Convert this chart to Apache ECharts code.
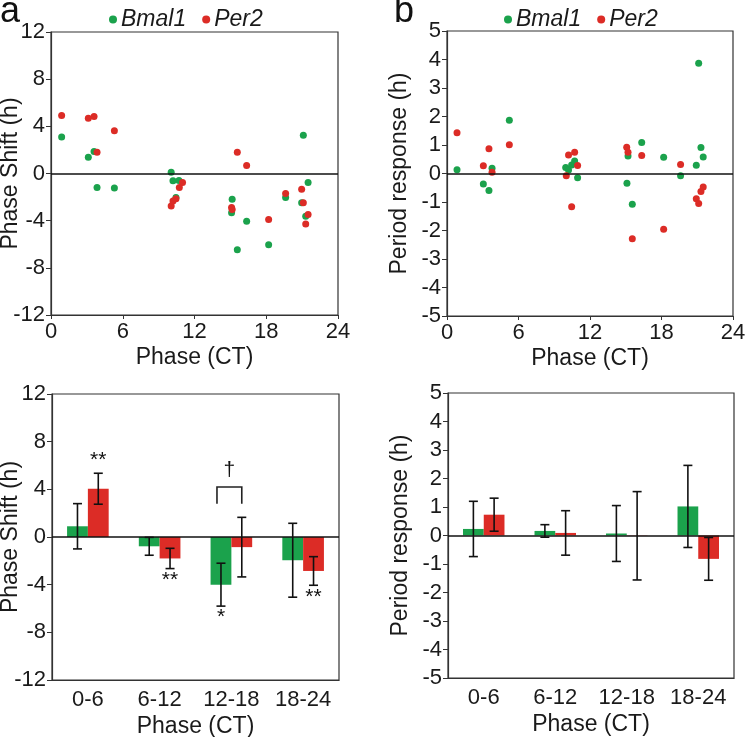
<!DOCTYPE html>
<html>
<head>
<meta charset="utf-8">
<script src="https://cdn.jsdelivr.net/npm/echarts@6/dist/echarts.min.js"></script>
<style>html,body{margin:0;padding:0;background:#fff}#c{width:750px;height:737px}</style>
</head>
<body>
<div id="c"></div>
<script>
// ---- Data ----
// Panel a (top): phase shift vs phase, [CT, shift]
const shiftBmal1 = [[0.89,3.1],[3.12,1.38],[3.6,1.86],[3.85,-1.19],[5.3,-1.24],[10.05,0.11],[10.2,-0.62],[10.7,-0.59],[10.45,-2.03],[15.15,-2.18],[15.1,-3.33],[15.58,-6.47],[16.36,-4.04],[18.2,-6.05],[19.62,-2.03],[20.96,-2.49],[21.1,3.25],[21.3,-3.62],[21.5,-0.76]];
const shiftPer2 = [[0.89,4.92],[3.12,4.69],[3.6,4.83],[3.85,1.81],[5.3,3.62],[10.05,-2.75],[10.2,-2.34],[10.45,-2.15],[10.73,-1.19],[11.0,-0.76],[15.1,-2.88],[15.15,-3.05],[15.58,1.81],[16.36,0.68],[18.2,-3.9],[19.62,-1.69],[20.96,-1.33],[21.1,-2.49],[21.3,-4.29],[21.5,-3.47]];
// Panel b (top): period response vs phase
const periodBmal1 = [[0.84,0.13],[3.05,-0.37],[3.52,-0.6],[3.78,0.18],[5.23,1.87],[9.96,0.21],[10.2,0.12],[10.46,0.3],[10.71,0.44],[10.96,-0.15],[15.1,-0.34],[15.19,0.61],[15.55,-1.08],[16.34,1.09],[18.18,0.57],[19.6,-0.08],[20.92,0.29],[21.12,3.87],[21.31,0.91],[21.5,0.58]];
const periodPer2 = [[0.84,1.43],[3.05,0.27],[3.52,0.87],[3.78,0.04],[5.23,1.01],[10.01,-0.08],[10.2,0.65],[10.46,-1.17],[10.71,0.75],[10.96,0.28],[15.08,0.92],[15.19,0.75],[15.55,-2.29],[16.34,0.63],[18.18,-1.96],[19.6,0.32],[20.92,-0.89],[21.12,-1.05],[21.31,-0.63],[21.5,-0.47]];
// Bottom panels: binned means and errors
const bins = ['0-6','6-12','12-18','18-24'];
const shiftMeanBmal1 = [0.9,-0.78,-4.0,-1.95];
const shiftErrBmal1  = [1.9,0.75,1.8,3.1];
const shiftMeanPer2  = [4.05,-1.8,-0.85,-2.85];
const shiftErrPer2   = [1.3,0.85,2.5,1.2];
const periodMeanBmal1 = [0.23,0.16,0.07,1.02];
const periodErrBmal1  = [0.97,0.22,0.98,1.44];
const periodMeanPer2  = [0.73,0.09,-0.01,-0.82];
const periodErrPer2   = [0.58,0.78,1.55,0.75];
// significance marks: [binIndex, side(-1 Bmal1, +1 Per2), label, 'above'|'below']
const shiftSig = [[0,1,'**','above'],[1,1,'**','below'],[2,-1,'*','below'],[3,1,'**','below']];
// bracket between Bmal1 and Per2 in bin 2: [binIndex, top, legBottom, label]
const shiftBracket = [[2,4.2,2.8,'\u2020']];
const yTicksShift = [-12,-8,-4,0,4,8,12];
const yTicksPeriod = [-5,-4,-3,-2,-1,0,1,2,3,4,5];
const xTicksPhase = [0,6,12,18,24];

// ---- Styling ----
const GREEN = '#1ba24c';
const RED = '#dc2c26';
const FONT = 'Liberation Sans, Arial, sans-serif';
const AX = '#333';
const TXT = '#1a1a1a';
const BW = 0.29; // bar width fraction of band
const TICKFS = 22;
const NAMEFS = 23;

const chart = echarts.init(document.getElementById('c'));

function valueY(idx, min, max, interval, name, gap){
  return {
    gridIndex: idx, type:'value', min:min, max:max, interval:interval,
    name:name, nameLocation:'middle', nameGap:gap, nameMoveOverlap:false,
    nameTextStyle:{fontSize:NAMEFS, color:TXT, fontFamily:FONT},
    axisLine:{show:true, lineStyle:{color:AX, width:1.2}},
    axisTick:{show:true, inside:false, length:5, lineStyle:{color:AX}},
    axisLabel:{fontSize:TICKFS, color:TXT, fontFamily:FONT, margin:6},
    splitLine:{show:false}
  };
}
function phaseX(idx){
  return {
    gridIndex: idx, type:'value', min:0, max:24, interval:6,
    name:'Phase (CT)', nameLocation:'middle', nameGap:31, nameMoveOverlap:false,
    nameTextStyle:{fontSize:NAMEFS, color:TXT, fontFamily:FONT},
    axisLine:{show:true, onZero:false, lineStyle:{color:AX, width:1.2}},
    axisTick:{show:true, length:4, lineStyle:{color:AX}},
    axisLabel:{fontSize:TICKFS, color:TXT, fontFamily:FONT, margin:6,
      formatter:function(v){return xTicksPhase.indexOf(v)>=0? String(v):'';}},
    splitLine:{show:false}
  };
}
function binX(idx){
  return {
    gridIndex: idx, type:'category', data:bins,
    name:'Phase (CT)', nameLocation:'middle', nameGap:35, nameMoveOverlap:false,
    nameTextStyle:{fontSize:NAMEFS, color:TXT, fontFamily:FONT},
    axisLine:{show:true, onZero:false, lineStyle:{color:AX, width:1.2}},
    axisTick:{show:false},
    axisLabel:{fontSize:TICKFS, color:TXT, fontFamily:FONT, margin:9, interval:0},
    splitLine:{show:false}
  };
}
const zeroLine = {silent:true, symbol:['none','none'], label:{show:false},
  lineStyle:{color:'#111', type:'solid', width:1.5}, data:[{yAxis:0}]};

function scatter(name, data, color, idx, withZero){
  const s = {name:name, type:'scatter', xAxisIndex:idx, yAxisIndex:idx, data:data,
    symbolSize:7, itemStyle:{color:color, opacity:1}};
  if(withZero) s.markLine = zeroLine;
  return s;
}
function bar(name, data, color, idx, withZero){
  const s = {name:name, type:'bar', xAxisIndex:idx, yAxisIndex:idx, data:data,
    barWidth:(BW*100)+'%', barGap:'0%', itemStyle:{color:color}};
  if(withZero) s.markLine = zeroLine;
  return s;
}
function errData(means, errs, side){
  return means.map(function(m,i){return [i, m, errs[i], side];});
}
function errorBars(data, idx){
  return {type:'custom', xAxisIndex:idx, yAxisIndex:idx, data:data, z:5, silent:true,
    renderItem:function(params, api){
      const cat = api.value(0), m = api.value(1), e = api.value(2), side = api.value(3);
      const band = api.size([1,0])[0];
      const c = api.coord([cat, m]);
      const x = c[0] + side*band*BW/2;
      const yt = api.coord([cat, m+e])[1];
      const yb = api.coord([cat, m-e])[1];
      const cw = 4.5;
      const st = {stroke:'#111', lineWidth:1.6};
      return {type:'group', children:[
        {type:'line', shape:{x1:x,y1:yt,x2:x,y2:yb}, style:st},
        {type:'line', shape:{x1:x-cw,y1:yt,x2:x+cw,y2:yt}, style:st},
        {type:'line', shape:{x1:x-cw,y1:yb,x2:x+cw,y2:yb}, style:st}
      ]};
    }};
}
function sigMarks(idx){
  const data = shiftSig.map(function(s){
    const means = s[1] < 0 ? shiftMeanBmal1 : shiftMeanPer2;
    const errs = s[1] < 0 ? shiftErrBmal1 : shiftErrPer2;
    const y = s[3]==='above' ? means[s[0]]+errs[s[0]] : means[s[0]]-errs[s[0]];
    return [s[0], y, s[1], s[3]==='above'?1:-1, s[2]];
  });
  return {type:'custom', xAxisIndex:idx, yAxisIndex:idx, data:data, z:6, silent:true,
    renderItem:function(params, api){
      const cat = api.value(0), y = api.value(1), side = api.value(2), dir = api.value(3);
      const label = data[params.dataIndex][4];
      const band = api.size([1,0])[0];
      const p = api.coord([cat, y]);
      const x = p[0] + side*band*BW/2;
      return {type:'text', x:x, y: dir>0 ? p[1]-3 : p[1]+1,
        style:{text:label, fontSize:21, fontFamily:FONT, fill:'#111',
          align:'center', verticalAlign: dir>0 ? 'bottom' : 'top'}};
    }};
}
function bracket(idx){
  return {type:'custom', xAxisIndex:idx, yAxisIndex:idx, data:shiftBracket, z:6, silent:true,
    renderItem:function(params, api){
      const cat = api.value(0), top = api.value(1), leg = api.value(2);
      const label = shiftBracket[params.dataIndex][3];
      const band = api.size([1,0])[0];
      const c = api.coord([cat, top]);
      const yl = api.coord([cat, leg])[1];
      const x1 = c[0] - band*BW/2 - 4, x2 = c[0] + band*BW/2;
      const st = {stroke:'#222', lineWidth:1.6, fill:null};
      return {type:'group', children:[
        {type:'polyline', shape:{points:[[x1,yl],[x1,c[1]],[x2,c[1]],[x2,yl]]}, style:st},
        {type:'text', x:(x1+x2)/2, y:c[1]-6, style:{text:label, fontSize:21, fontFamily:FONT,
          fill:'#111', align:'center', verticalAlign:'bottom'}}
      ]};
    }};
}

const legendCommon = {orient:'horizontal', icon:'circle', itemWidth:8, itemHeight:8, itemGap:16,
  data:['Bmal1','Per2'], selectedMode:false,
  textStyle:{fontSize:23, fontStyle:'italic', color:TXT, fontFamily:FONT, padding:[0,0,0,-1]}};

const gridCommon = {show:true, borderColor:AX, borderWidth:1.2, backgroundColor:'transparent',
  containLabel:false, outerBoundsMode:'none'};

const option = {
  animation:false,
  backgroundColor:'#fff',
  color:[GREEN, RED],
  textStyle:{fontFamily:FONT},
  graphic:[
    {type:'text', left:0, top:-6, style:{text:'a', fontSize:36, fontFamily:FONT, fill:'#111'}},
    {type:'text', left:394, top:-6, style:{text:'b', fontSize:36, fontFamily:FONT, fill:'#111'}}
  ],
  legend:[
    Object.assign({left:104, top:3}, legendCommon),
    Object.assign({left:499, top:3}, legendCommon)
  ],
  grid:[
    Object.assign({left:51, top:32, width:287, height:283}, gridCommon),
    Object.assign({left:447, top:31, width:286, height:285}, gridCommon),
    Object.assign({left:52, top:394, width:287, height:286}, gridCommon),
    Object.assign({left:448, top:393, width:286, height:285}, gridCommon)
  ],
  xAxis:[phaseX(0), phaseX(1), binX(2), binX(3)],
  yAxis:[
    valueY(0,-12,12,4,'Phase Shift (h)',29),
    valueY(1,-5,5,1,'Period response (h)',36),
    valueY(2,-12,12,4,'Phase Shift (h)',30),
    valueY(3,-5,5,1,'Period response (h)',36)
  ],
  series:[
    scatter('Bmal1', shiftBmal1, GREEN, 0, true),
    scatter('Per2', shiftPer2, RED, 0, false),
    scatter('Bmal1', periodBmal1, GREEN, 1, true),
    scatter('Per2', periodPer2, RED, 1, false),
    bar('Bmal1', shiftMeanBmal1, GREEN, 2, true),
    bar('Per2', shiftMeanPer2, RED, 2, false),
    bar('Bmal1', periodMeanBmal1, GREEN, 3, true),
    bar('Per2', periodMeanPer2, RED, 3, false),
    errorBars(errData(shiftMeanBmal1, shiftErrBmal1, -1), 2),
    errorBars(errData(shiftMeanPer2, shiftErrPer2, 1), 2),
    errorBars(errData(periodMeanBmal1, periodErrBmal1, -1), 3),
    errorBars(errData(periodMeanPer2, periodErrPer2, 1), 3),
    sigMarks(2),
    bracket(2)
  ]
};
chart.setOption(option);
</script>
</body>
</html>
